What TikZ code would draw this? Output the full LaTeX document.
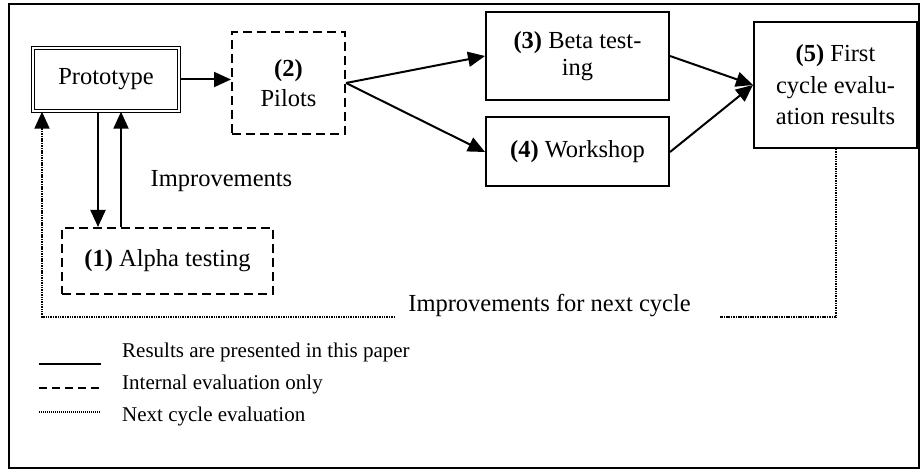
\documentclass[tikz,border=0pt]{standalone}
\usepackage{fontspec}
\setmainfont{Liberation Serif}
\usetikzlibrary{arrows.meta,calc}
\tikzset{
  base/.style={font=\fontsize{24.5}{27}\selectfont, align=center, inner sep=0pt},
  solidbox/.style={base, draw, line width=2pt},
  dashbox/.style={base, draw, line width=2pt, dash pattern=on 9pt off 5pt},
  dblbox/.style={base, draw, double, double distance=1.4pt, line width=1.4pt},
  arr/.style={line width=2pt, -{Triangle[length=17pt,width=15pt]}},
  dotline/.style={line width=2pt, dash pattern=on 1.5pt off 0.9pt},
  dotarr/.style={dotline, -{Triangle[length=17pt,width=15pt]}},
  legtext/.style={font=\fontsize{21}{24}\selectfont, anchor=base west, inner sep=0pt},
  lbl/.style={font=\fontsize{24.5}{27}\selectfont, anchor=base, inner sep=0pt}
}
\begin{document}
\begin{tikzpicture}[x=1pt,y=-1pt]
\useasboundingbox (0,0) rectangle (921,470);
\draw[line width=1.5pt] (9,4) rectangle (919,468);

% boxes
\node[dblbox, minimum width=146pt, minimum height=63pt] (proto) at (106,79.5) {Prototype};
\node[dashbox, minimum width=113pt, minimum height=102pt, font=\fontsize{24.5}{30}\selectfont] (pilots) at (288.5,83) {\textbf{(2)}\\Pilots};
\node[solidbox, minimum width=183pt, minimum height=88pt] (beta) at (577.5,56) {\textbf{(3)} Beta test-\\ing};
\node[solidbox, minimum width=183pt, minimum height=69pt] (work) at (577.5,152) {\textbf{(4)} Workshop};
\node[solidbox, minimum width=163pt, minimum height=126pt, font=\fontsize{24.5}{31.5}\selectfont] (res) at (835.5,85) {\textbf{(5)} First\\cycle evalu-\\ation results};
\node[dashbox, minimum width=211pt, minimum height=66pt] (alpha) at (167.5,261) {\textbf{(1)} Alpha testing};

% arrows
\draw[arr] (proto.east) -- (proto.east -| pilots.west);
\draw[arr] (pilots.east) -- (beta.west);
\draw[arr] (pilots.east) -- (work.west);
\draw[arr] (beta.east) -- (res.west);
\draw[arr] (work.east) -- (res.west);
\coordinate (d0) at ([xshift=-8pt]proto.south);
\coordinate (u0) at ([xshift=15pt]proto.south);
\draw[arr] (d0) -- (d0 |- alpha.north);
\draw[arr] (u0 |- alpha.north) -- (u0);

% labels
\node[lbl] (impr) at (221.5,187) {Improvements};
\node[lbl] (nextc) at (549.5,312) {Improvements for next cycle};

% dotted loop
\coordinate (gapR) at (720,317);
\coordinate (gapL) at (395,317);
\coordinate (dotL) at (42,317);
\draw[dotline] (res.south) |- (gapR);
\draw[dotarr] (gapL) -- (dotL) -- (dotL |- proto.south);

% legend
\coordinate (l1a) at (39,364); \coordinate (l1b) at (101,364);
\coordinate (l2a) at (39,388); \coordinate (l2b) at (101,388);
\coordinate (l3a) at (39,412); \coordinate (l3b) at (101,412);
\draw[line width=2pt] (l1a) -- (l1b);
\draw[line width=1.8pt, dash pattern=on 8pt off 5pt] (l2a) -- (l2b);
\draw[line width=1.2pt, dash pattern=on 1pt off 1pt] (l3a) -- (l3b);
\node[legtext] (t1) at (122,357) {Results are presented in this paper};
\node[legtext] (t2) at (122,389) {Internal evaluation only};
\node[legtext] (t3) at (122,421) {Next cycle evaluation};
\end{tikzpicture}
\end{document}
